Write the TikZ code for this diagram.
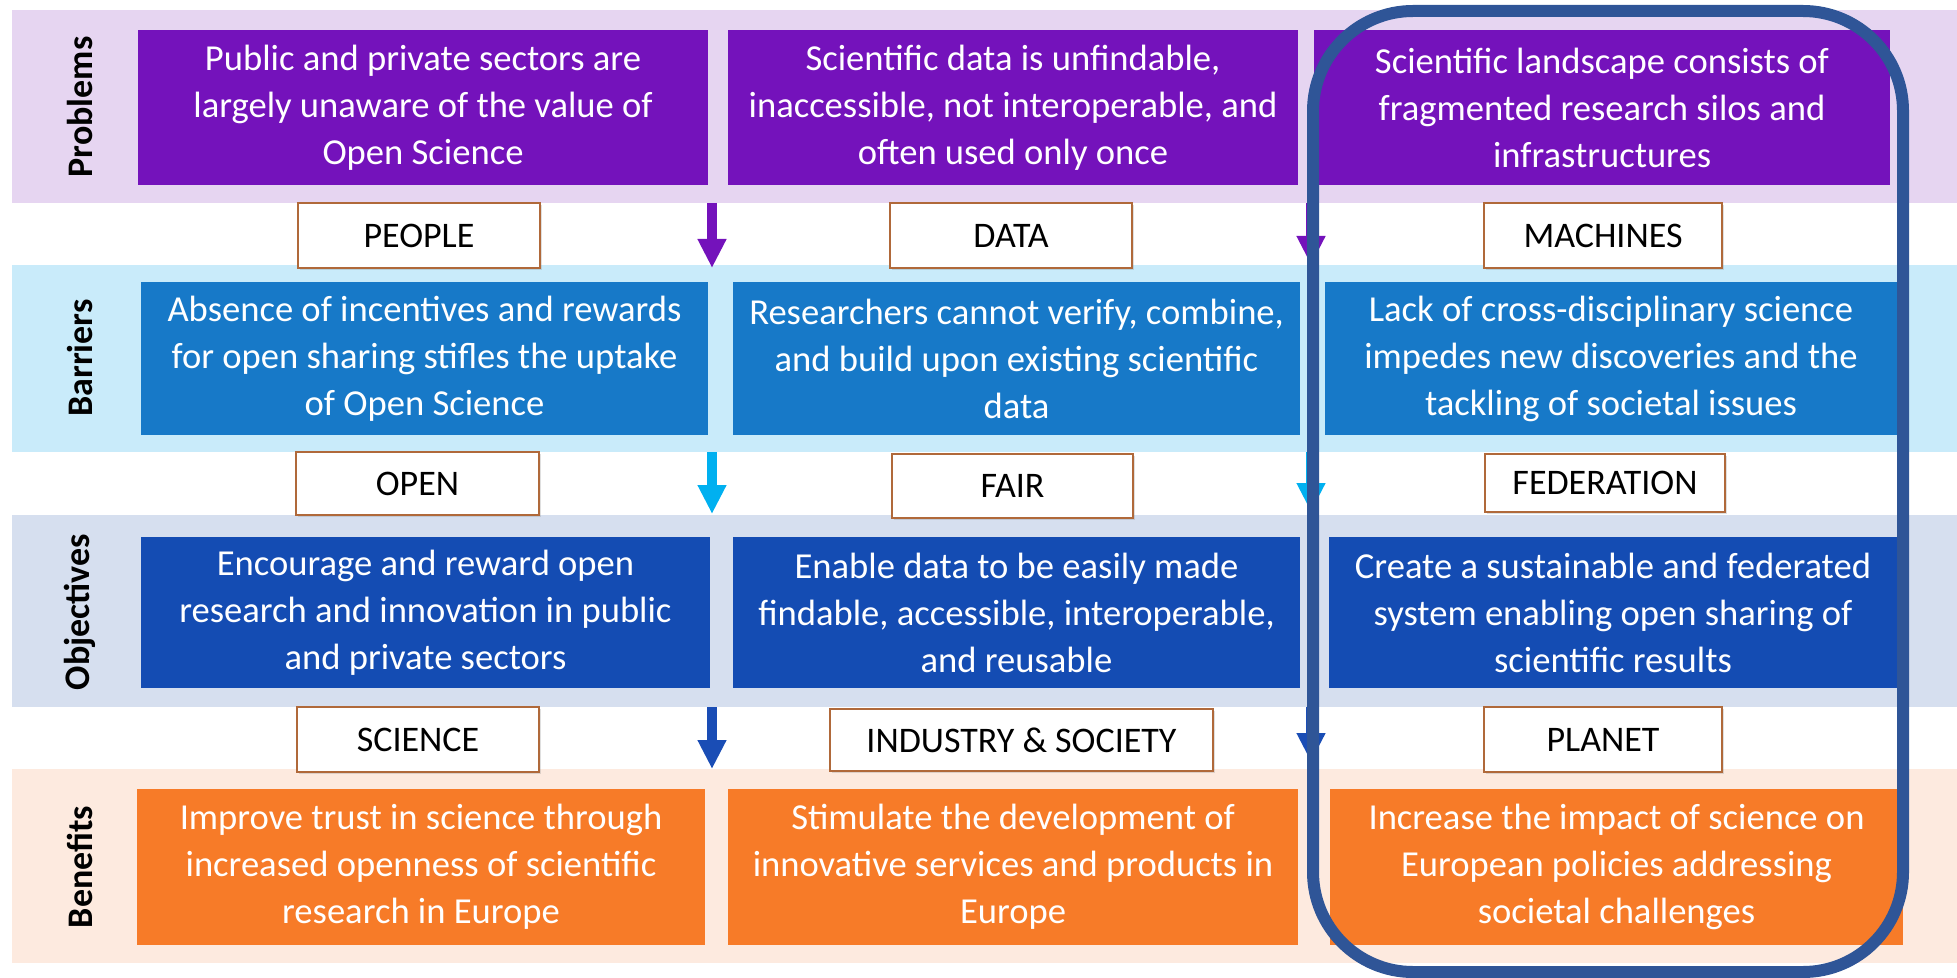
\documentclass[tikz,border=0pt]{standalone}
\usepackage{fontspec}
\setmainfont{Carlito}
\usetikzlibrary{arrows.meta,shadows}
\definecolor{bandP}{HTML}{E6D5F1}
\definecolor{boxP}{HTML}{7412BB}
\definecolor{bandB}{HTML}{C9EBFA}
\definecolor{boxB}{HTML}{1779C8}
\definecolor{bandO}{HTML}{D6DFEF}
\definecolor{boxO}{HTML}{144CB3}
\definecolor{bandE}{HTML}{FDEADF}
\definecolor{boxE}{HTML}{F77B28}
\definecolor{arrP}{HTML}{7412BB}
\definecolor{arrB}{HTML}{00B0F0}
\definecolor{arrO}{HTML}{1A4DB5}
\definecolor{lblborder}{HTML}{B0693A}
\definecolor{frameblue}{HTML}{2F5597}
\tikzset{
  band/.style={fill=#1, draw=none, inner sep=0pt, anchor=north west},
  sidelabel/.style={rotate=90, font=\fontsize{18pt}{20pt}\selectfont\bfseries, text=black, inner sep=0pt},
  mainbox/.style={fill=#1, draw=none, text=white, align=center, inner sep=0pt,
    font=\fontsize{18.3pt}{23.5pt}\selectfont},
  lblbox/.style={fill=white, draw=lblborder, line width=1pt, inner sep=0pt,
    font=\fontsize{18pt}{20pt}\selectfont, text=black,
    drop shadow={opacity=0.25, shadow xshift=0.8pt, shadow yshift=-0.8pt}},
  flowarrow/.style={draw=#1, line width=5pt, -{Triangle[width=13.5pt,length=14.5pt]}},
  hlframe/.style={draw=frameblue, line width=6pt, rounded corners=50pt}
}
\begin{document}
\begin{tikzpicture}[x=0.5pt,y=-0.5pt]
\useasboundingbox (0,0) rectangle (1957,978);
% bands
\node[band=bandP, minimum width=972.5pt, minimum height=96.5pt] (bP) at (12,10) {};
\node[band=bandB, minimum width=972.5pt, minimum height=93.5pt] (bB) at (12,265) {};
\node[band=bandO, minimum width=972.5pt, minimum height=96pt] (bO) at (12,515) {};
\node[band=bandE, minimum width=972.5pt, minimum height=97pt] (bE) at (12,769) {};
% side labels
\node[sidelabel] (sP) at (80,107) {Problems};
\node[sidelabel] (sB) at (80,358) {Barriers};
\node[sidelabel] (sO) at (80,612) {Objectives};
\node[sidelabel] (sE) at (80,867) {Benefits};
% problems
\node[mainbox=boxP, minimum width=285pt, minimum height=77.5pt] (p1) at (423,107.5)
  {Public and private sectors are\\largely unaware of the value of\\Open Science};
\node[mainbox=boxP, minimum width=285pt, minimum height=77.5pt] (p2) at (1013,107.5)
  {Scientific data is unfindable,\\inaccessible, not interoperable, and\\often used only once};
\node[mainbox=boxP, minimum width=288pt, minimum height=77.5pt] (p3) at (1602,107.5)
  {Scientific landscape consists of\\fragmented research silos and\\infrastructures};
% barriers
\node[mainbox=boxB, minimum width=283.5pt, minimum height=76.5pt] (b1) at (424.5,358.5)
  {Absence of incentives and rewards\\for open sharing stifles the uptake\\of Open Science};
\node[mainbox=boxB, minimum width=283.5pt, minimum height=76.5pt] (b2) at (1016.5,358.5)
  {Researchers cannot verify, combine,\\and build upon existing scientific\\data};
\node[mainbox=boxB, minimum width=286pt, minimum height=76.5pt] (b3) at (1611,358.5)
  {Lack of cross-disciplinary science\\impedes new discoveries and the\\tackling of societal issues};
% objectives
\node[mainbox=boxO, minimum width=284.5pt, minimum height=75.5pt] (o1) at (425.5,612.5)
  {Encourage and reward open\\research and innovation in public\\and private sectors};
\node[mainbox=boxO, minimum width=283.5pt, minimum height=75.5pt] (o2) at (1016.5,612.5)
  {Enable data to be easily made\\findable, accessible, interoperable,\\and reusable};
\node[mainbox=boxO, minimum width=284pt, minimum height=75.5pt] (o3) at (1613,612.5)
  {Create a sustainable and federated\\system enabling open sharing of\\scientific results};
% benefits
\node[mainbox=boxE, minimum width=284pt, minimum height=78pt] (e1) at (421,867)
  {Improve trust in science through\\increased openness of scientific\\research in Europe};
\node[mainbox=boxE, minimum width=285pt, minimum height=78pt] (e2) at (1013,867)
  {Stimulate the development of\\innovative services and products in\\Europe};
\node[mainbox=boxE, minimum width=286.5pt, minimum height=78pt] (e3) at (1616.5,867)
  {Increase the impact of science on\\European policies addressing\\societal challenges};
% label boxes
\node[lblbox, minimum width=121pt, minimum height=32.5pt] (lPeople) at (419,235.5) {PEOPLE};
\node[lblbox, minimum width=121pt, minimum height=32.5pt] (lData) at (1011,235.5) {DATA};
\node[lblbox, minimum width=119pt, minimum height=32.5pt] (lMach) at (1603,235.5) {MACHINES};
\node[lblbox, minimum width=121.5pt, minimum height=31.5pt] (lOpen) at (417.5,483.5) {OPEN};
\node[lblbox, minimum width=120.5pt, minimum height=32pt] (lFair) at (1012.5,486) {FAIR};
\node[lblbox, minimum width=120pt, minimum height=29pt] (lFed) at (1605,483) {FEDERATION};
\node[lblbox, minimum width=121pt, minimum height=32.5pt] (lSci) at (418,739.5) {SCIENCE};
\node[lblbox, minimum width=191.5pt, minimum height=31pt] (lInd) at (1021.5,740) {INDUSTRY \& SOCIETY};
\node[lblbox, minimum width=119pt, minimum height=32.5pt] (lPlan) at (1603,739.5) {PLANET};
% arrows
\coordinate (a1s) at (712,203); \coordinate (a1e) at (712,268);
\coordinate (a2s) at (712,452); \coordinate (a2e) at (712,514);
\coordinate (a3s) at (712,707); \coordinate (a3e) at (712,769);
\coordinate (c1s) at (1311,203); \coordinate (c1e) at (1311,265);
\coordinate (c2s) at (1311,452); \coordinate (c2e) at (1311,512);
\coordinate (c3s) at (1311,707); \coordinate (c3e) at (1311,762);
\draw[flowarrow=arrP] (a1s) -- (a1e);
\draw[flowarrow=arrB] (a2s) -- (a2e);
\draw[flowarrow=arrO] (a3s) -- (a3e);
\draw[flowarrow=arrP] (c1s) -- (c1e);
\draw[flowarrow=arrB] (c2s) -- (c2e);
\draw[flowarrow=arrO] (c3s) -- (c3e);
% highlight frame
\coordinate (fTL) at (1313,11);
\coordinate (fBR) at (1903,972);
\draw[hlframe] (fTL) rectangle (fBR);
\end{tikzpicture}
\end{document}
